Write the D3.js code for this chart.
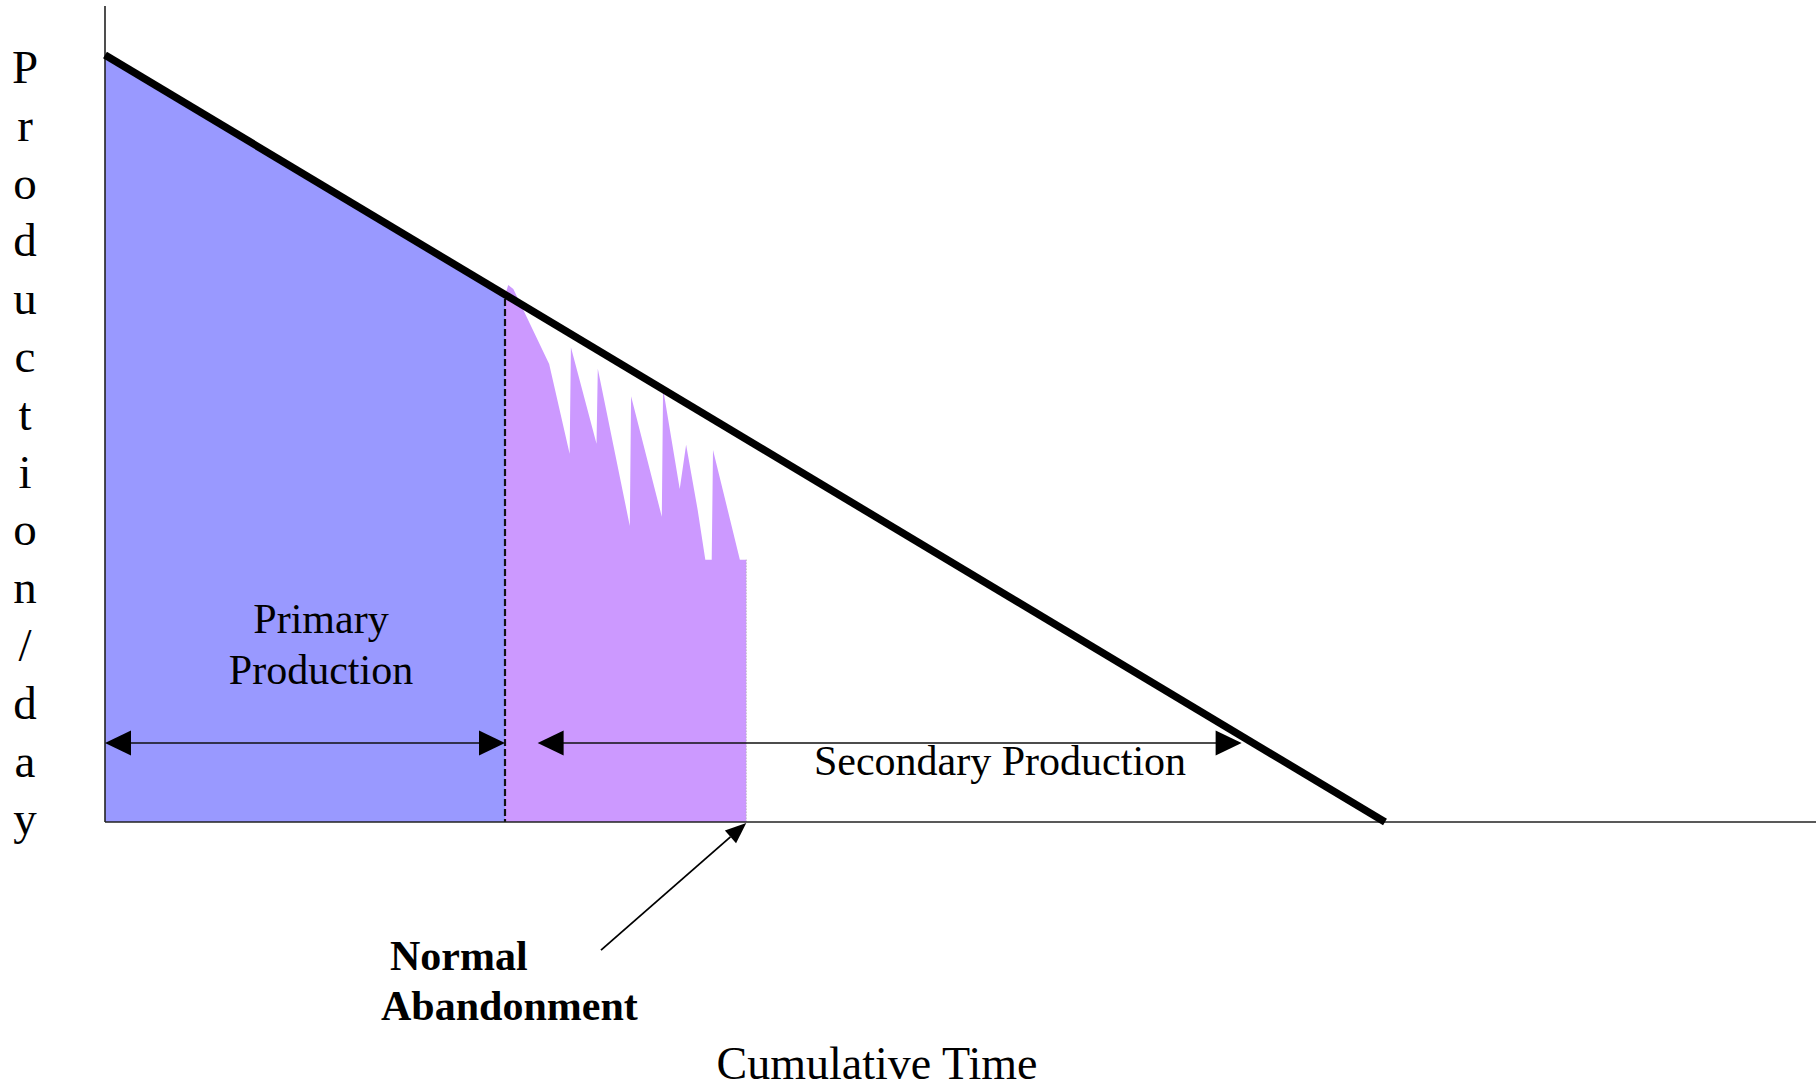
<!DOCTYPE html>
<html><head><meta charset="utf-8">
<script src="https://cdn.jsdelivr.net/npm/d3@7"></script>
<style>html,body{margin:0;padding:0;background:#fff;}svg{display:block;}</style>
</head><body>
<script>
// ---- data (time units, production units) ----
const declineLine = [[0, 100], [100, 0]];
const primaryArea = [[0, 100], [31.25, 68.75]];
const primaryEnd = 31.25;
const secondaryT = [31.25, 31.25, 31.5, 31.9, 34.7, 36.3, 36.4, 38.4, 38.5, 41.0, 41.1, 43.5, 43.6, 44.9, 45.4, 46.3, 46.9, 47.4, 47.5, 49.6, 50.1];
const secondaryP = [0, 68.6, 70.0, 69.5, 59.7, 48.0, 61.9, 49.3, 59.1, 38.6, 55.5, 39.8, 56.5, 43.4, 49.2, 40.7, 34.2, 34.2, 48.5, 34.2, 34.2];
const abandonT = 50.1;
const primaryArrow = [0, 31.25];
const secondaryArrow = [33.8, 88.8];
const arrowP = 10.3;
const pointerTail = [38.75, -16.7];
const axisXMax = 133.7;
const axisYMax = 106.4;
const yLabel = "Production/day".split("");
const labels = {primary: ["Primary", "Production"], secondary: "Secondary Production",
  abandon: ["Normal", "Abandonment"], xTitle: "Cumulative Time"};

// ---- layout ----
const W = 1816, H = 1091;
const x = d3.scaleLinear().domain([0, 100]).range([105, 1385]);
const y = d3.scaleLinear().domain([0, 100]).range([822, 55]);
const serif = "'Liberation Serif','Times New Roman',serif";

const svg = d3.select("body").append("svg").attr("width", W).attr("height", H);

// blue primary area
const area = d3.area().x(d => x(d[0])).y0(y(0)).y1(d => y(d[1]) + 3);
svg.append("path").datum(primaryArea).attr("d", area).attr("fill", "#9999FF");

// purple secondary area
const secPts = secondaryT.map((t, i) => [t, secondaryP[i]]);
secPts.push([abandonT, 0]);
svg.append("path").datum(secPts)
  .attr("d", d3.line().x(d => x(d[0])).y(d => y(d[1]))(secPts) + "Z")
  .attr("fill", "#CC99FF");

// dotted right edge of purple
svg.append("line").attr("x1", x(abandonT)).attr("x2", x(abandonT))
  .attr("y1", y(34.2)).attr("y2", y(0))
  .attr("stroke", "#aaa").attr("stroke-width", 1).attr("stroke-dasharray", "1,2");

// dashed separator
svg.append("line").attr("x1", x(primaryEnd)).attr("x2", x(primaryEnd))
  .attr("y1", y(68.2)).attr("y2", y(0))
  .attr("stroke", "#111").attr("stroke-width", 2.2).attr("stroke-dasharray", "7,3");

// axes
svg.append("line").attr("x1", x(0)).attr("x2", x(0)).attr("y1", y(axisYMax)).attr("y2", y(0))
  .attr("stroke", "#222").attr("stroke-width", 1.6);
svg.append("line").attr("x1", x(0)).attr("x2", x(axisXMax)).attr("y1", y(0)).attr("y2", y(0))
  .attr("stroke", "#222").attr("stroke-width", 1.6);

// decline line
svg.append("path").datum(declineLine)
  .attr("d", d3.line().x(d => x(d[0])).y(d => y(d[1])))
  .attr("stroke", "#000").attr("stroke-width", 7.5).attr("fill", "none");

// double arrows
function hArrow(t0, t1, p) {
  const yy = y(p), x0 = x(t0), x1 = x(t1), L = 26, h = 12.5;
  svg.append("line").attr("x1", x0 + L - 2).attr("x2", x1 - L + 2).attr("y1", yy).attr("y2", yy)
    .attr("stroke", "#111").attr("stroke-width", 1.6);
  svg.append("path").attr("d", `M${x0},${yy}L${x0 + L},${yy - h}L${x0 + L},${yy + h}Z`).attr("fill", "#000");
  svg.append("path").attr("d", `M${x1},${yy}L${x1 - L},${yy - h}L${x1 - L},${yy + h}Z`).attr("fill", "#000");
}
hArrow(primaryArrow[0], primaryArrow[1], arrowP);
hArrow(secondaryArrow[0], secondaryArrow[1], arrowP);

// abandonment pointer
{
  const tx = x(abandonT), ty = y(0) + 1;
  const sx = x(pointerTail[0]), sy = y(pointerTail[1]);
  const ang = Math.atan2(ty - sy, tx - sx);
  const L = 21, h = 8.5;
  const bx = tx - L * Math.cos(ang), by = ty - L * Math.sin(ang);
  svg.append("line").attr("x1", sx).attr("y1", sy).attr("x2", bx).attr("y2", by)
    .attr("stroke", "#000").attr("stroke-width", 1.8);
  const px = -Math.sin(ang) * h, py = Math.cos(ang) * h;
  svg.append("path").attr("d", `M${tx},${ty}L${bx + px},${by + py}L${bx - px},${by - py}Z`).attr("fill", "#000");
}

// texts
const txt = (s, xx, yy, opts = {}) => svg.append("text").text(s).attr("x", xx).attr("y", yy)
  .attr("font-family", serif).attr("font-size", opts.size || 42)
  .attr("font-weight", opts.weight || "normal")
  .attr("text-anchor", opts.anchor || "middle").attr("fill", "#000");

yLabel.forEach((c, i) => txt(c, 25, 83 + i * 57.8, {size: 47}));
txt(labels.primary[0], 321, 633);
txt(labels.primary[1], 321, 684);
txt(labels.secondary, 1000, 775);
txt(labels.abandon[0], 390, 970, {weight: "bold", anchor: "start"});
txt(labels.abandon[1], 381, 1020, {weight: "bold", anchor: "start"});
txt(labels.xTitle, 877, 1079, {size: 46});
</script>
</body></html>
